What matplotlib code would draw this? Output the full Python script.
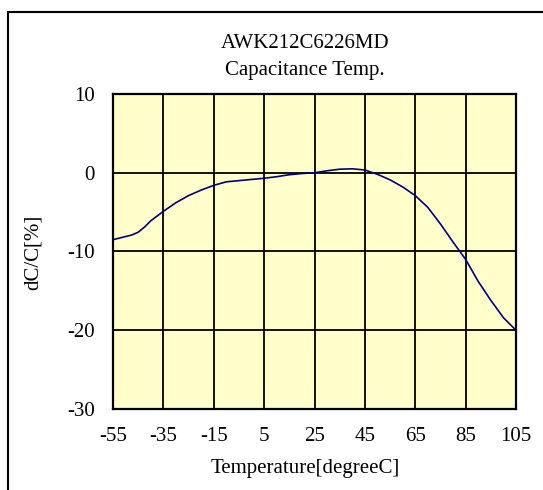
import matplotlib
matplotlib.use("Agg")
import matplotlib.pyplot as plt
from matplotlib.patches import Rectangle

plt.rcParams['font.family'] = ['Liberation Serif', 'DejaVu Serif']
plt.rcParams['axes.unicode_minus'] = False

# temperature [degC] and capacitance change [%]
temps = [-55, -50, -47.5, -45, -42.5, -40, -35, -30, -25, -20, -15, -10, -5, 0,
         5, 10, 15, 20, 25, 30, 35, 40, 45, 50, 55, 60, 65, 70, 75, 80, 85, 90,
         95, 100, 105]
dcc = [-8.5, -8.1, -7.9, -7.55, -6.9, -6.1, -4.9, -3.8, -2.9, -2.2, -1.6, -1.15,
       -1.0, -0.85, -0.7, -0.5, -0.25, -0.1, 0.0, 0.25, 0.45, 0.5, 0.35, -0.2,
       -0.9, -1.8, -2.9, -4.4, -6.5, -8.8, -11.0, -13.8, -16.2, -18.4, -20.0]

xticks = [-55, -35, -15, 5, 25, 45, 65, 85, 105]
yticks = [-30, -20, -10, 0, 10]

W, H = 543, 490
fig = plt.figure(figsize=(W / 100, H / 100), dpi=100)
ax = fig.add_axes([113 / W, 1 - 409 / H, 403 / W, 315 / H])

ax.set_facecolor('#FFFFCC')
ax.plot(temps, dcc, color='#000080', lw=1.2, zorder=3)

ax.set_xlim(-55, 105)
ax.set_ylim(-30, 10)
ax.set_xticks(xticks)
ax.set_yticks(yticks)
ax.tick_params(length=0, labelsize=15, pad=13)
ax.grid(True, color='black', lw=1.3)
for s in ax.spines.values():
    s.set_linewidth(1.6)
    s.set_color('black')

# outer frame around the chart
fig.patches.append(Rectangle((8 / W, -0.2), 1.5, 1.2 - 12 / H, transform=fig.transFigure,
                             fill=False, edgecolor='black', lw=1.5))

fig.text(305 / W, 1 - 43 / H, 'AWK212C6226MD', ha='center', va='center', fontsize=15)
fig.text(305 / W, 1 - 70 / H, 'Capacitance Temp.', ha='center', va='center', fontsize=15)
fig.text(305 / W, 1 - 468 / H, 'Temperature[degreeC]', ha='center', va='center', fontsize=15)
fig.text(33 / W, 1 - 252 / H, 'dC/C[%]', ha='center', va='center', rotation=90, fontsize=15)

fig.savefig('out.png', dpi=100)
